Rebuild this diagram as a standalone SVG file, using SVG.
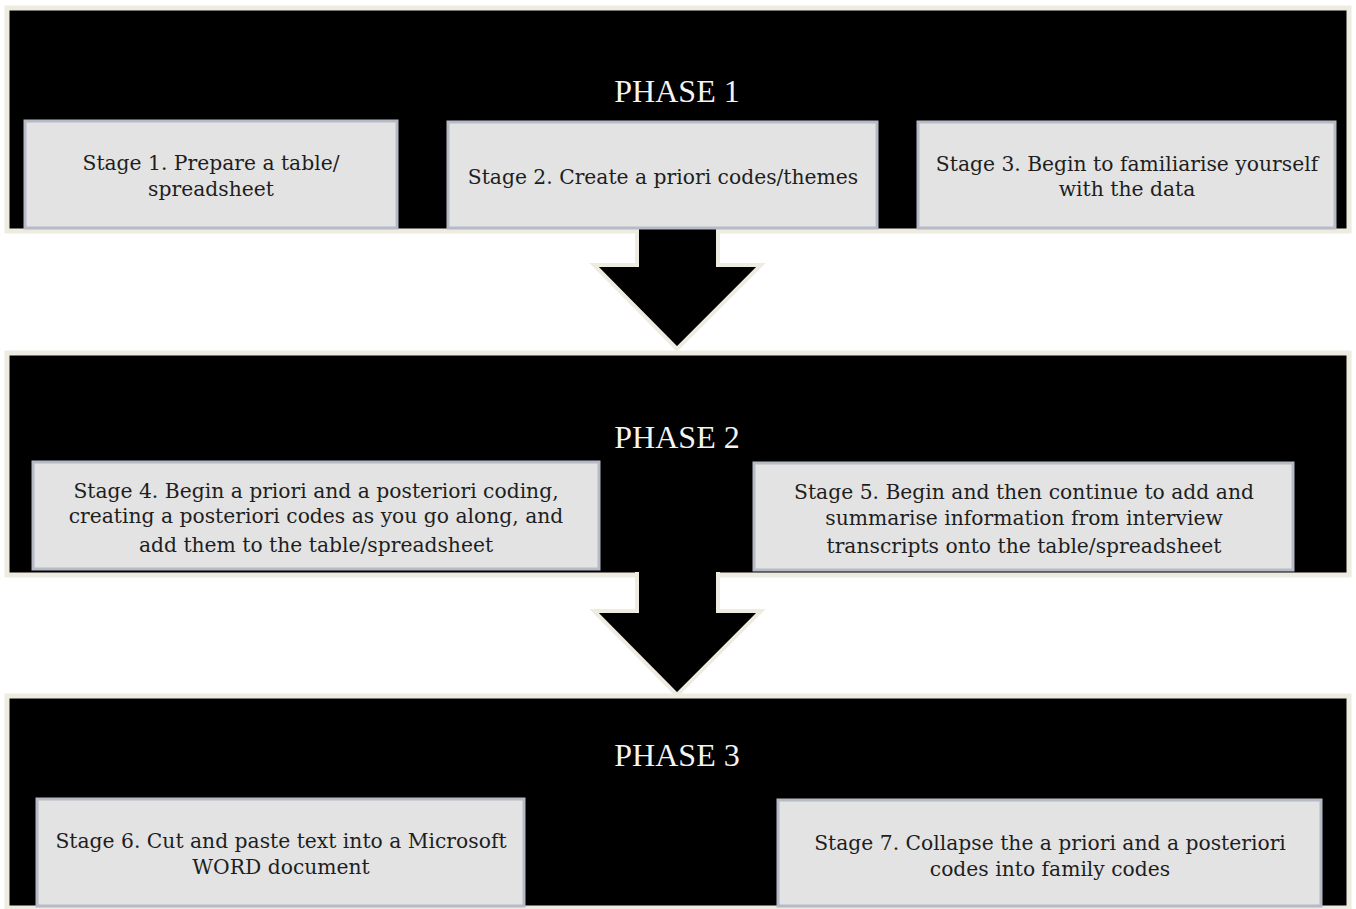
<svg xmlns="http://www.w3.org/2000/svg" width="1356" height="909" viewBox="0 0 1356 909">
  <style>
    .phase { fill: #000; stroke: #eeebe1; stroke-width: 5; }
    .stage rect { fill: #e3e3e3; stroke: #b6bac6; stroke-width: 3; }
    .stage text { font-family: "DejaVu Serif", serif; font-size: 20.3px; fill: #1e1e1e; text-anchor: middle; }
    .ptitle { font-family: "Liberation Serif", serif; font-size: 32px; fill: #f4f4f4; text-anchor: middle; }
    .arrow { fill: #000; stroke: #eeebe1; stroke-width: 4; stroke-linejoin: miter; }
  </style>
  <rect width="1356" height="909" fill="#fff"/>

  <!-- Phase bands -->
  <g id="phase1">
    <rect class="phase" x="7" y="8" width="1342" height="223"/>
    <text class="ptitle" x="677" y="102">PHASE 1</text>
  </g>
  <g id="phase2">
    <rect class="phase" x="7" y="353" width="1342" height="222"/>
    <text class="ptitle" x="677" y="448">PHASE 2</text>
  </g>
  <g id="phase3">
    <rect class="phase" x="7" y="696" width="1342" height="212"/>
    <text class="ptitle" x="677" y="766">PHASE 3</text>
  </g>

  <!-- Connectors between phases -->
  <g id="connectors">
    <path class="arrow" d="M637,226 V265 H594 L677,349 L761,265 H718 V226"/>
    <path class="arrow" d="M637,572 V611 H594 L677,695 L761,611 H718 V572"/>
  </g>

  <!-- Stages -->
  <g id="stage1" class="stage">
    <rect x="25" y="121" width="372" height="107"/>
    <text x="211" y="170">Stage 1. Prepare a table/</text>
    <text x="211" y="196">spreadsheet</text>
  </g>
  <g id="stage2" class="stage">
    <rect x="448" y="122" width="429" height="106"/>
    <text x="663" y="184">Stage 2. Create a priori codes/themes</text>
  </g>
  <g id="stage3" class="stage">
    <rect x="918" y="122" width="417" height="106"/>
    <text x="1127" y="171">Stage 3. Begin to familiarise yourself</text>
    <text x="1127" y="196">with the data</text>
  </g>
  <g id="stage4" class="stage">
    <rect x="33" y="462" width="566" height="107"/>
    <text x="316" y="498">Stage 4. Begin a priori and a posteriori coding,</text>
    <text x="316" y="523">creating a posteriori codes as you go along, and</text>
    <text x="316" y="552">add them to the table/spreadsheet</text>
  </g>
  <g id="stage5" class="stage">
    <rect x="754" y="463" width="539" height="107"/>
    <text x="1024" y="499">Stage 5. Begin and then continue to add and</text>
    <text x="1024" y="525">summarise information from interview</text>
    <text x="1024" y="553">transcripts onto the table/spreadsheet</text>
  </g>
  <g id="stage6" class="stage">
    <rect x="37" y="799" width="487" height="107"/>
    <text x="281" y="848">Stage 6. Cut and paste text into a Microsoft</text>
    <text x="281" y="874">WORD document</text>
  </g>
  <g id="stage7" class="stage">
    <rect x="778" y="800" width="543" height="106"/>
    <text x="1050" y="850">Stage 7. Collapse the a priori and a posteriori</text>
    <text x="1050" y="876">codes into family codes</text>
  </g>
</svg>
